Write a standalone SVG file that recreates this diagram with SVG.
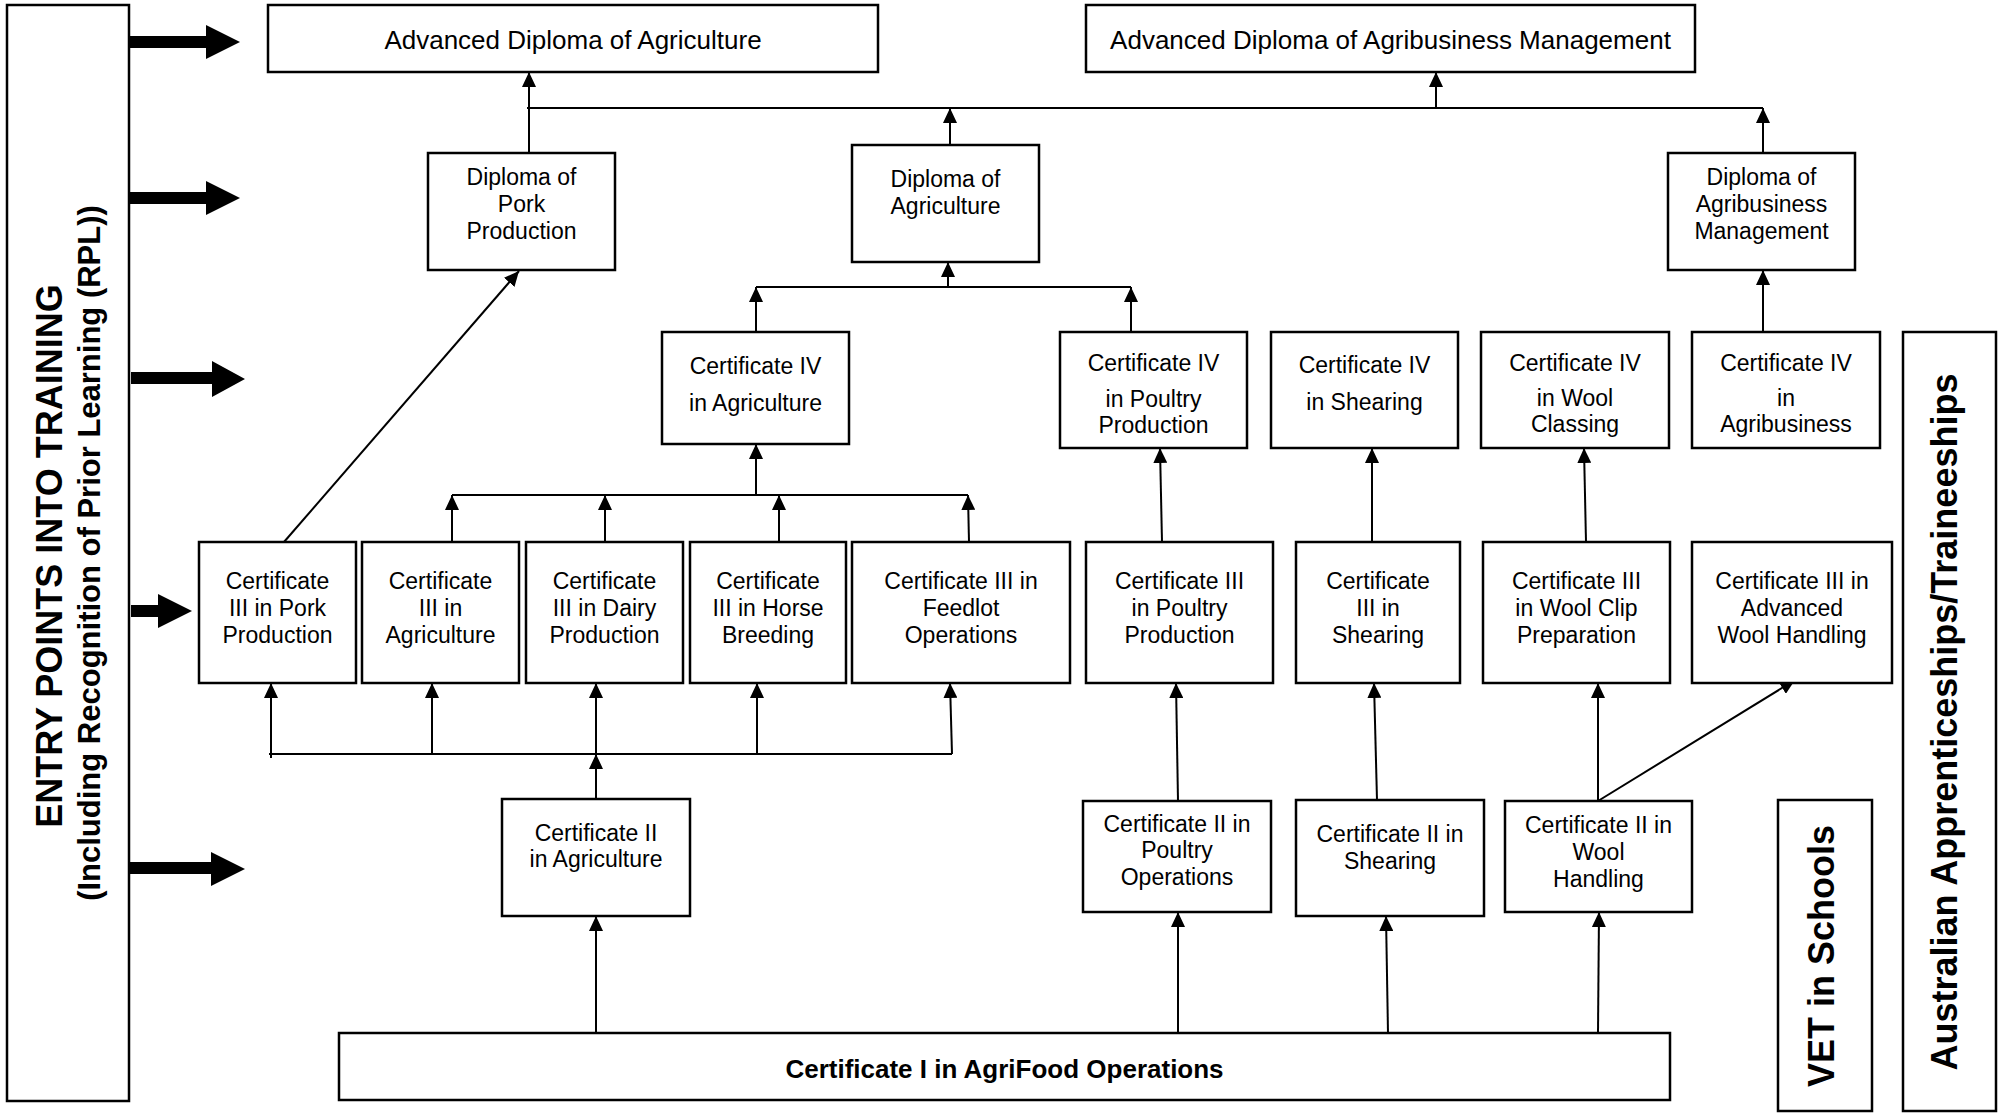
<svg xmlns="http://www.w3.org/2000/svg" width="1999" height="1113" viewBox="0 0 1999 1113">
<defs>
<style>
.box{fill:#fff;stroke:#000;stroke-width:2.5}
.t{font-family:"Liberation Sans",Arial,Helvetica,sans-serif;font-size:23px;text-anchor:middle;fill:#000}
.tl{font-size:26px}
.b{font-weight:bold}
.c{stroke:#000;stroke-width:2;fill:none}
.a{marker-end:url(#ah)}
.big{fill:#000}
</style>
<marker id="ah" markerUnits="userSpaceOnUse" markerWidth="16" markerHeight="14" refX="15" refY="7" orient="auto">
<path d="M0,0 L15,7 L0,14 z" fill="#000"/>
</marker>
</defs>
<rect width="1999" height="1113" fill="#fff"/>

<g id="connectors">
<line class="c a" x1="529" y1="153" x2="529" y2="72"/>
<line class="c" x1="527" y1="108" x2="1763" y2="108"/>
<line class="c a" x1="950" y1="145" x2="950" y2="108"/>
<line class="c a" x1="1436" y1="108" x2="1436" y2="72"/>
<line class="c a" x1="1763" y1="153" x2="1763" y2="108"/>
<line class="c a" x1="1763" y1="332" x2="1763" y2="270"/>
<line class="c" x1="756" y1="287" x2="1131" y2="287"/>
<line class="c a" x1="948" y1="287" x2="948" y2="262"/>
<line class="c a" x1="756" y1="332" x2="756" y2="287"/>
<line class="c a" x1="1131" y1="332" x2="1131" y2="287"/>
<line class="c" x1="452" y1="495" x2="968" y2="495"/>
<line class="c a" x1="756" y1="495" x2="756" y2="444"/>
<line class="c a" x1="452" y1="542" x2="452" y2="495"/>
<line class="c a" x1="605" y1="542" x2="605" y2="495"/>
<line class="c a" x1="779" y1="542" x2="779" y2="495"/>
<line class="c a" x1="969" y1="542" x2="968" y2="495"/>
<line class="c a" x1="284" y1="542" x2="519" y2="271"/>
<line class="c a" x1="1162" y1="542" x2="1160" y2="448"/>
<line class="c a" x1="1372" y1="542" x2="1372" y2="448"/>
<line class="c a" x1="1586" y1="542" x2="1584" y2="448"/>
<line class="c" x1="269" y1="754" x2="952" y2="754"/>
<line class="c a" x1="271" y1="758" x2="271" y2="683"/>
<line class="c a" x1="432" y1="754" x2="432" y2="683"/>
<line class="c a" x1="596" y1="754" x2="596" y2="683"/>
<line class="c a" x1="757" y1="754" x2="757" y2="683"/>
<line class="c a" x1="952" y1="754" x2="950" y2="683"/>
<line class="c a" x1="596" y1="799" x2="596" y2="754"/>
<line class="c a" x1="596" y1="1033" x2="596" y2="916"/>
<line class="c a" x1="1178" y1="801" x2="1176" y2="683"/>
<line class="c a" x1="1178" y1="1033" x2="1178" y2="912"/>
<line class="c a" x1="1377" y1="800" x2="1374" y2="683"/>
<line class="c a" x1="1388" y1="1033" x2="1386" y2="916"/>
<line class="c a" x1="1598" y1="801" x2="1598" y2="683"/>
<line class="c a" x1="1598" y1="801" x2="1795" y2="680"/>
<line class="c a" x1="1598" y1="1033" x2="1599" y2="912"/>
<polygon class="big" points="129,36 206,36 206,25 240,42 206,59 206,48 129,48"/>
<polygon class="big" points="129,192 206,192 206,181 240,198 206,215 206,204 129,204"/>
<polygon class="big" points="131,372 212,372 212,361 245,379 212,397 212,384 131,384"/>
<polygon class="big" points="131,605 158,605 158,594 192,611 158,628 158,617 131,617"/>
<polygon class="big" points="129,862 211,862 211,852 245,869 211,886 211,874 129,874"/>
</g>

<g id="entry-points">
<rect class="box" x="7" y="5" width="122" height="1096"/>
<text class="t b" style="font-size:36px" transform="translate(62,556) rotate(-90)">ENTRY POINTS INTO TRAINING</text>
<text class="t b" style="font-size:31px" transform="translate(100,553) rotate(-90)">(Including Recognition of Prior Learning (RPL))</text>
</g>

<g id="adv-dip-agri">
<rect class="box" x="268" y="5" width="610" height="67"/>
<text class="t tl" x="573" y="49">Advanced Diploma of Agriculture</text>
</g>
<g id="adv-dip-agribus">
<rect class="box" x="1086" y="5" width="609" height="67"/>
<text class="t tl" x="1390.5" y="49">Advanced Diploma of Agribusiness Management</text>
</g>

<g id="dip-pork">
<rect class="box" x="428" y="153" width="187" height="117"/>
<text class="t" x="521.5" y="185">Diploma of</text>
<text class="t" x="521.5" y="212">Pork</text>
<text class="t" x="521.5" y="239">Production</text>
</g>
<g id="dip-agri">
<rect class="box" x="852" y="145" width="187" height="117"/>
<text class="t" x="945.5" y="187">Diploma of</text>
<text class="t" x="945.5" y="214">Agriculture</text>
</g>
<g id="dip-agribus">
<rect class="box" x="1668" y="153" width="187" height="117"/>
<text class="t" x="1761.5" y="185">Diploma of</text>
<text class="t" x="1761.5" y="212">Agribusiness</text>
<text class="t" x="1761.5" y="239">Management</text>
</g>

<g id="c4-agri">
<rect class="box" x="662" y="332" width="187" height="112"/>
<text class="t" x="755.5" y="374">Certificate IV</text>
<text class="t" x="755.5" y="411">in Agriculture</text>
</g>
<g id="c4-poultry">
<rect class="box" x="1060" y="332" width="187" height="116"/>
<text class="t" x="1153.5" y="371">Certificate IV</text>
<text class="t" x="1153.5" y="407">in Poultry</text>
<text class="t" x="1153.5" y="433">Production</text>
</g>
<g id="c4-shear">
<rect class="box" x="1271" y="332" width="187" height="116"/>
<text class="t" x="1364.5" y="373">Certificate IV</text>
<text class="t" x="1364.5" y="410">in Shearing</text>
</g>
<g id="c4-wool">
<rect class="box" x="1481" y="332" width="188" height="116"/>
<text class="t" x="1575" y="371">Certificate IV</text>
<text class="t" x="1575" y="406">in Wool</text>
<text class="t" x="1575" y="432">Classing</text>
</g>
<g id="c4-agribus">
<rect class="box" x="1692" y="332" width="188" height="116"/>
<text class="t" x="1786" y="371">Certificate IV</text>
<text class="t" x="1786" y="406">in</text>
<text class="t" x="1786" y="432">Agribusiness</text>
</g>

<g id="c3-pork">
<rect class="box" x="199" y="542" width="157" height="141"/>
<text class="t" x="277.5" y="589">Certificate</text>
<text class="t" x="277.5" y="616">III in Pork</text>
<text class="t" x="277.5" y="643">Production</text>
</g>
<g id="c3-agri">
<rect class="box" x="362" y="542" width="157" height="141"/>
<text class="t" x="440.5" y="589">Certificate</text>
<text class="t" x="440.5" y="616">III in</text>
<text class="t" x="440.5" y="643">Agriculture</text>
</g>
<g id="c3-dairy">
<rect class="box" x="526" y="542" width="157" height="141"/>
<text class="t" x="604.5" y="589">Certificate</text>
<text class="t" x="604.5" y="616">III in Dairy</text>
<text class="t" x="604.5" y="643">Production</text>
</g>
<g id="c3-horse">
<rect class="box" x="690" y="542" width="156" height="141"/>
<text class="t" x="768" y="589">Certificate</text>
<text class="t" x="768" y="616">III in Horse</text>
<text class="t" x="768" y="643">Breeding</text>
</g>
<g id="c3-feedlot">
<rect class="box" x="852" y="542" width="218" height="141"/>
<text class="t" x="961" y="589">Certificate III in</text>
<text class="t" x="961" y="616">Feedlot</text>
<text class="t" x="961" y="643">Operations</text>
</g>
<g id="c3-poultry">
<rect class="box" x="1086" y="542" width="187" height="141"/>
<text class="t" x="1179.5" y="589">Certificate III</text>
<text class="t" x="1179.5" y="616">in Poultry</text>
<text class="t" x="1179.5" y="643">Production</text>
</g>
<g id="c3-shear">
<rect class="box" x="1296" y="542" width="164" height="141"/>
<text class="t" x="1378" y="589">Certificate</text>
<text class="t" x="1378" y="616">III in</text>
<text class="t" x="1378" y="643">Shearing</text>
</g>
<g id="c3-woolclip">
<rect class="box" x="1483" y="542" width="187" height="141"/>
<text class="t" x="1576.5" y="589">Certificate III</text>
<text class="t" x="1576.5" y="616">in Wool Clip</text>
<text class="t" x="1576.5" y="643">Preparation</text>
</g>
<g id="c3-advwool">
<rect class="box" x="1692" y="542" width="200" height="141"/>
<text class="t" x="1792" y="589">Certificate III in</text>
<text class="t" x="1792" y="616">Advanced</text>
<text class="t" x="1792" y="643">Wool Handling</text>
</g>

<g id="c2-agri">
<rect class="box" x="502" y="799" width="188" height="117"/>
<text class="t" x="596" y="841">Certificate II</text>
<text class="t" x="596" y="867">in Agriculture</text>
</g>
<g id="c2-poultry">
<rect class="box" x="1083" y="801" width="188" height="111"/>
<text class="t" x="1177" y="832">Certificate II in</text>
<text class="t" x="1177" y="858">Poultry</text>
<text class="t" x="1177" y="885">Operations</text>
</g>
<g id="c2-shear">
<rect class="box" x="1296" y="800" width="188" height="116"/>
<text class="t" x="1390" y="842">Certificate II in</text>
<text class="t" x="1390" y="869">Shearing</text>
</g>
<g id="c2-wool">
<rect class="box" x="1505" y="801" width="187" height="111"/>
<text class="t" x="1598.5" y="833">Certificate II in</text>
<text class="t" x="1598.5" y="860">Wool</text>
<text class="t" x="1598.5" y="887">Handling</text>
</g>

<g id="c1-agrifood">
<rect class="box" x="339" y="1033" width="1331" height="67"/>
<text class="t tl b" x="1004.5" y="1078">Certificate I in AgriFood Operations</text>
</g>

<g id="vet-schools">
<rect class="box" x="1778" y="800" width="94" height="311"/>
<text class="t b" style="font-size:36px" transform="translate(1834,956) rotate(-90)">VET in Schools</text>
</g>
<g id="apprenticeships">
<rect class="box" x="1903" y="332" width="93" height="779"/>
<text class="t b" style="font-size:36px" transform="translate(1957,722) rotate(-90)">Australian Apprenticeships/Traineeships</text>
</g>
</svg>
